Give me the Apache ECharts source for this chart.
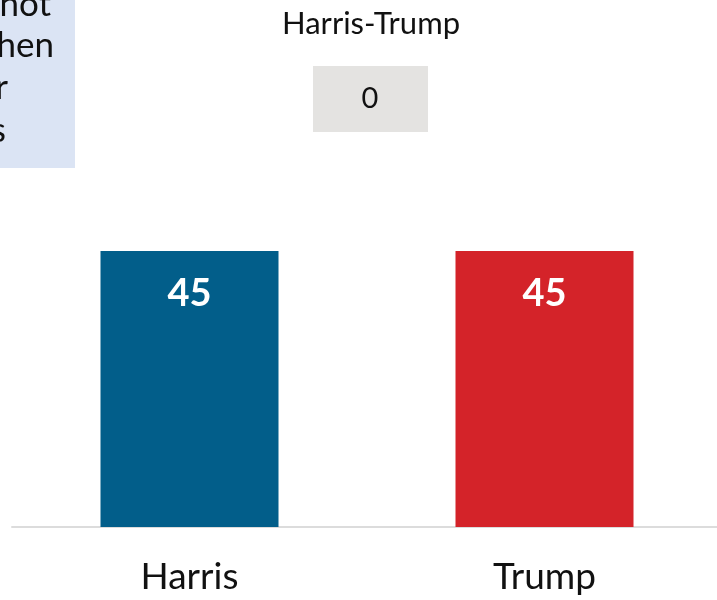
<!DOCTYPE html>
<html><head><meta charset="utf-8">
<script src="https://cdn.jsdelivr.net/npm/echarts@6/dist/echarts.min.js"></script>
<style>html,body{margin:0;padding:0;background:#fff;overflow:hidden}#c{width:730px;height:600px}</style>
</head><body><div id="c"></div>
<script>
const categories = ['Harris', 'Trump'];
const values = [45, 45];
const barColors = ['#025e8a', '#d42329'];
const titleText = 'Harris-Trump';
const diffText = String(values[0] - values[1]);
const noteFragments = ['not', 'hen', 'r', 's'];

const chart = echarts.init(document.getElementById('c'));
chart.setOption({
  animation: false,
  grid: { left: 12, right: 8, top: 159, bottom: 73 },
  xAxis: {
    type: 'category', data: categories,
    axisLine: { lineStyle: { color: '#dcdcdc', width: 2 } },
    axisTick: { show: false },
    axisLabel: { color: '#111', fontSize: 37, fontFamily: 'Lato', margin: 32 }
  },
  yAxis: { type: 'value', min: 0, max: 60, show: false, splitLine: { show: false } },
  series: [{
    type: 'bar', barWidth: 178,
    data: values.map((v, i) => ({ value: v, itemStyle: { color: barColors[i] } })),
    label: { show: true, position: 'insideTop', distance: 24, color: '#fff', fontSize: 38, fontWeight: 'bold', fontFamily: 'Lato' }
  }],
  graphic: [
    { type: 'rect', left: 0, top: 0, shape: { width: 75, height: 168 }, style: { fill: '#dbe4f4' } },
    ...noteFragments.map((t, i) => ({
      type: 'text', z: 10,
      style: { text: t, x: [51, 54, 8, 6][i], y: [5, 46, 88, 131][i], align: 'right', verticalAlign: 'middle', fontSize: 35, fontFamily: 'Lato', fill: '#111' }
    })),
    { type: 'text', style: { text: titleText, x: 371, y: 24, align: 'center', verticalAlign: 'middle', fontSize: 31, fontFamily: 'Lato', fill: '#111' } },
    { type: 'rect', shape: { x: 313, y: 66, width: 115, height: 66 }, style: { fill: '#e4e3e1' } },
    { type: 'text', style: { text: diffText, x: 370, y: 99, align: 'center', verticalAlign: 'middle', fontSize: 29, fontFamily: 'Lato', fill: '#111' } }
  ]
});
</script></body></html>
